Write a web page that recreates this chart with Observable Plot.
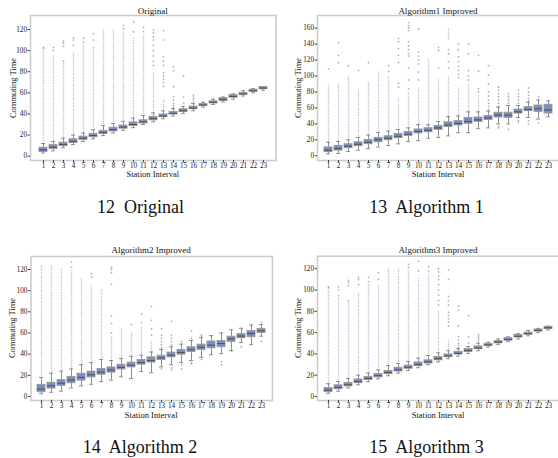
<!DOCTYPE html>
<html><head><meta charset="utf-8">
<script src="https://cdn.jsdelivr.net/npm/d3@7"></script>
<script src="https://cdn.jsdelivr.net/npm/@observablehq/plot@0.6"></script>
<style>
html,body{margin:0;padding:0;background:#fff;overflow:hidden}
#root{position:relative;width:558px;height:458px;overflow:hidden;font-family:"Liberation Serif",serif;color:#111}
.abs{position:absolute;white-space:pre;transform:translate(-50%,-50%);line-height:1}
.rot{transform:translate(-50%,-50%) rotate(-90deg)}
.pan{position:absolute;overflow:visible}
.pan text{font-family:"Liberation Serif",serif !important;fill:#222}
</style></head><body><div id="root"></div>
<script>
// ---------- data ----------
const categories = [1,2,3,4,5,6,7,8,9,10,11,12,13,14,15,16,17,18,19,20,21,22,23];
const titles = ["Original", "Algorithm1 Improved", "Algorithm2 Improved", "Algorithm3 Improved"];
const captions = ["12  Original", "13  Algorithm 1", "14  Algorithm 2", "15  Algorithm 3"];
const xLabel = "Station Interval";
const yLabel = "Commuting Time";
const yTicks120 = [0,20,40,60,80,100,120];
const yTicks160 = [0,20,40,60,80,100,120,140,160];

// Original
const origMed = [6,8.5,11,14,17,19.5,22.5,25,27.5,30,32.5,35.5,38,40.5,43,45.5,48.5,51,53.5,56.5,59,62,64.5];
const origQ1  = [4,6.8,9.5,12.5,15.5,18,21,23.5,26,28.5,31,34,37,39.5,42,44.5,47.5,50,52.5,55.5,58,61,63.5];
const origQ3  = [8,10.5,12.8,16,18.5,21.2,24,27,29,32,34,37.2,39.5,42,44.5,47,49.5,52,55,58,60,63,65.5];
const origLo  = [3,5,8,11,14,16.5,19.5,22,24.5,27,30,32.5,35.5,38,40.5,43,46.5,49,51.5,54,57,60,62.5];
const origHi  = [12,14,17,20,22,25,29,31,33,36,38.5,41,43,45,47,50,51,54,56,59,62,64,66];
const origStreaks = [[[13,100]],[[15,95]],[[17.5,88]],[[21,98]],[[23,106]],[[26,104]],[[30,120]],[[32,120]],[[34,118]],[[37,112]],[[39.5,115]],[[42,80]],[[44,53]],[],[],[],[],[],[],[],[],[],[]];
const origFliers = [[102,103],[100,103],[90,104,107,109],[105,110,112],[108,112],[110,116],[],[],[121,124],[118,127],[118,122],
  [86,90,95,100,105,110,113,117,120],[66,70,73,76,79,86,90,94,110,119],[46,48,50,53,56,66,81,85],[50,56,76],[52,54,56,58],[],[],[],[],[],[],[]];

// Algorithm 1
const a1Med = [7,9,12,14.5,17,20,22,24.5,27,30.5,32,35,38.5,40.5,43,45,47.5,51,51,55,58,59,57.5];
const a1Q1  = [4.5,6.5,9.5,12,14.5,17,19.5,22,25,28,29.5,32.5,36,38,40,42.5,45,48,47.5,53,56,55,53];
const a1Q3  = [10.5,12.5,14.5,17,20,22.5,24.5,27.5,30,33,34.5,37.5,42,43.5,47.5,48,50,54,54,58,61,63,64];
const a1Lo  = [2.5,3,5.5,7,9,11,13,15,18,19,22,23,25,29,29,34,35,40,40,48,48,46,49];
const a1Hi  = [17,18,20,23,26,29,31,33,35,39,39,43,49,50,55,55,56,61,63,63,67,70,69];
const a1Streaks = [[[17,89]],[[18.5,90]],[[21,100]],[[24,83]],[[27,93]],[[30,106]],[[32,100]],[[34,72]],[[36,80]],[[40,85]],[[40,121]],[[44,95]],[[50,100],[145,161]],[[51,86]],[[56,90]],[[56,75]],[],[],[],[],[],[],[]];
const a1Fliers = [[109],[117,126,142],[113],[107],[117],[],[106,113],[86,91,117,126,134,143,147],
  [84,95,110,125,128,133,138,143,157,160,163,167],[95,105,115,120,125,130,159],[],[110,132,136],[110,118,128,133],
  [98,102,107,112,118,124,133,140],[95,100,107,128,140],[80,84,106,126],[58,62,66,70,75,80,90,101,113],
  [35,37,62,66,70,74,78,82,86],[33,66,70,74,78],[42,44,66,70,74,78,82],[40,44,69,72,76,80,85],[41,74],[]];

// Algorithm 2
const a2Med = [7,10,12.5,15.5,18,20.5,23,25,27.5,29.5,32,34,36.5,39,41.5,44,46.5,48.5,50,54.5,57,59.5,62];
const a2Q1  = [4,7.5,10,12.5,15,18,20.5,22.5,25.5,27.5,30,32,34.5,37,39.5,42,44,45.5,46.5,51.5,55,56,60];
const a2Q3  = [11,13,15.5,18.5,21.5,23.5,26,27.5,30,32,34.5,37,38.5,41.5,44,46.5,49,52,52.5,56.5,59,62,64];
const a2Lo  = [2.5,4,5,8,10,11.5,14,15.5,18.5,17,23.5,22.5,28,30,32,34,37,39.5,40.5,43.5,51,49,57];
const a2Hi  = [18,22,24,26,30,32,35,34,36,38,39,42,44.5,47,49.5,53,55.5,57.5,60,63,64.5,67.5,68];
const a2Streaks = [[[19,124]],[[23,124]],[[25,121]],[[27,119]],[[31,112]],[[33,105]],[[36,101]],[[35,56]],[[37,64]],[[39,60]],[[40,65]],[[43,52]],[],[],[],[],[],[],[],[],[],[],[]];
const a2Fliers = [[],[],[],[122,127],[],[113,116],[],[60,69,76,106,117,120,122],[],[68],[70,78],[58,64,72,85],
  [26,46,49,52,55,58,64],[25,27,49,52,55,58,71],[26,30,52],[31,32,55,62],[35,57,58],[],[30,33],[43],[47],[],[52,70]];

// Algorithm 3 (visually identical to Original)
const a3Med = origMed, a3Q1 = origQ1, a3Q3 = origQ3, a3Lo = origLo, a3Hi = origHi;
const a3Streaks = origStreaks, a3Fliers = origFliers;

// ---------- drawing ----------
const FONT = "Liberation Serif, serif";
const BOX_FILL = "#7a8cc4", EDGE = "#999999", WHISK = "#808080", MED = "#505050", FLIER = "#8e96b6";

function makePanel(med, q1, q3, lo, hi, streaks, fliers, cfg) {
  const boxes = categories.map((c, i) => ({x: c, med: med[i], q1: q1[i], q3: q3[i], lo: lo[i], hi: hi[i]}));
  const streakRows = categories.flatMap((c, i) => streaks[i].map(s => ({x: c, lo: s[0], hi: s[1]})));
  const flierRows = categories.flatMap((c, i) => fliers[i].map(v => ({x: c, v})));
  return Plot.plot({
    width: cfg.w, height: cfg.h,
    marginLeft: cfg.ml, marginRight: cfg.mr, marginTop: cfg.mt, marginBottom: cfg.mb,
    style: {fontFamily: FONT, fontSize: "7.2px", color: "#222", background: "transparent", overflow: "visible"},
    x: {type: "band", domain: categories, paddingInner: 0.2, paddingOuter: 0.1, label: null},
    y: {domain: cfg.yDomain, label: null},
    marks: [
      Plot.frame({stroke: "#cccccc", strokeWidth: 1.6}),
      Plot.axisX({tickSize: 2.5, tickPadding: 0, label: null, stroke: "#444", fontFamily: FONT, fill: "#222"}),
      Plot.axisY({ticks: cfg.yTicks, tickSize: 2.5, tickPadding: 1, label: null, stroke: "#444", fontFamily: FONT, fill: "#222"}),
      Plot.ruleX(streakRows, {x: "x", y1: "lo", y2: "hi", stroke: FLIER, strokeWidth: 1.4, strokeOpacity: 0.6, strokeDasharray: "1.1,1"}),
      Plot.dot(flierRows, {x: "x", y: "v", r: 0.9, fill: FLIER, fillOpacity: 0.75, stroke: null}),
      Plot.ruleX(boxes, {x: "x", y1: "lo", y2: "q1", stroke: WHISK, strokeWidth: 0.9}),
      Plot.ruleX(boxes, {x: "x", y1: "q3", y2: "hi", stroke: WHISK, strokeWidth: 0.9}),
      Plot.tickY(boxes, {x: "x", y: "lo", inset: 2, stroke: WHISK, strokeWidth: 0.9}),
      Plot.tickY(boxes, {x: "x", y: "hi", inset: 2, stroke: WHISK, strokeWidth: 0.9}),
      Plot.barY(boxes, {x: "x", y1: "q1", y2: "q3", fill: BOX_FILL, stroke: EDGE, strokeWidth: 0.9}),
      Plot.tickY(boxes, {x: "x", y: "med", stroke: MED, strokeWidth: 1})
    ]
  });
}

const root = document.getElementById("root");
function place(el, left, top) {
  el.classList.add("pan");
  el.style.left = left + "px"; el.style.top = top + "px";
  root.appendChild(el);
}
function text(str, x, y, size, rot) {
  const d = document.createElement("div");
  d.className = "abs" + (rot ? " rot" : "");
  d.textContent = str;
  d.style.left = x + "px"; d.style.top = y + "px"; d.style.fontSize = size + "px";
  root.appendChild(d);
}

place(makePanel(origMed, origQ1, origQ3, origLo, origHi, origStreaks, origFliers,
  {w: 279, h: 180, ml: 30, mr: 3.4, mt: 15, mb: 20, yDomain: [-4.1, 133.3], yTicks: yTicks120}), 0, 0);
place(makePanel(a1Med, a1Q1, a1Q3, a1Lo, a1Hi, a1Streaks, a1Fliers,
  {w: 281, h: 180, ml: 38, mr: 0.7, mt: 15, mb: 20, yDomain: [-5.9, 175.9], yTicks: yTicks160}), 279, 0);
place(makePanel(a2Med, a2Q1, a2Q3, a2Lo, a2Hi, a2Streaks, a2Fliers,
  {w: 279, h: 190, ml: 30.45, mr: 7.05, mt: 31, mb: 15, yDomain: [-3.8, 132.3], yTicks: yTicks120}), 0, 225);
place(makePanel(a3Med, a3Q1, a3Q3, a3Lo, a3Hi, a3Streaks, a3Fliers,
  {w: 281, h: 190, ml: 38, mr: 0.7, mt: 30.7, mb: 15, yDomain: [-3.76, 131.8], yTicks: yTicks120}), 279, 225);

// titles, axis labels, captions
text(titles[0], 152.8, 10.5, 9);
text(titles[1], 438, 10.5, 9);
text(titles[2], 151.2, 250, 9);
text(titles[3], 438, 250, 9);
text(yLabel, 12.7, 87.5, 8.5, true);
text(yLabel, 298.3, 87.5, 8.5, true);
text(yLabel, 11.7, 328, 8.5, true);
text(yLabel, 298.3, 328, 8.5, true);
text(xLabel, 152.8, 174.3, 8.5);
text(xLabel, 438, 174.3, 8.5);
text(xLabel, 151.2, 415.3, 8.5);
text(xLabel, 438, 415.3, 8.5);
text(captions[0], 140.6, 206.5, 18);
text(captions[1], 426.5, 206.5, 18);
text(captions[2], 140, 447.4, 18);
text(captions[3], 426.5, 447.4, 18);
</script></body></html>
